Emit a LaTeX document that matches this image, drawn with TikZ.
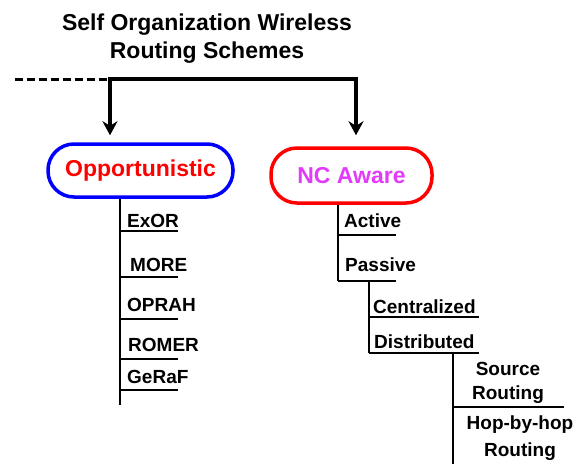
\documentclass[tikz,border=0pt]{standalone}
\usepackage{fontspec}
\setmainfont{Liberation Sans}
\usetikzlibrary{arrows.meta}
\definecolor{ncpink}{RGB}{226,58,250}
\tikzset{
	trunk/.style={black, line width=3.5pt},
	branch/.style={black, line width=1.5pt},
	family/.style={draw, line width=3.5pt, rounded corners=26pt, font=\fontsize{23}{28}\selectfont\bfseries},
	leaf/.style={anchor=base west, inner sep=0pt, font=\fontsize{19}{24}\selectfont\bfseries},
	subleaf/.style={anchor=base, inner sep=0pt, align=center, font=\fontsize{19}{24}\selectfont\bfseries},
}
\begin{document}
\begin{tikzpicture}[x=1pt,y=-1pt]
	\useasboundingbox (0,0) rectangle (582,464);
	%
	\node[anchor=base, inner sep=0pt, align=center, font=\fontsize{23}{28}\selectfont\bfseries] (head) at (207,58) {Self Organization Wireless\\Routing Schemes};
	%
	\node[family, blue, text=red, minimum width=185pt, minimum height=53pt] (opp) at (140.5,170.5) {Opportunistic};
	\node[family, red, text=ncpink, minimum width=161pt, minimum height=55pt] (nca) at (351.5,175.5) {NC Aware};
	%
	\coordinate (dash) at (15,79);
	\coordinate (split) at (110,79);
	\coordinate (rturn) at (356,79);
	\draw[trunk, line width=3pt, dash pattern=on 8pt off 4pt] (dash) -- (split);
	\draw[trunk, -{Stealth[length=14pt,width=15pt]}] (split) -- ([yshift=7pt]split |- opp.north);
	\draw[trunk, -{Stealth[length=14pt,width=15pt]}] ([xshift=-1.75pt]split) -- (rturn) -- ([yshift=11pt]rturn |- nca.north);
	%
	\draw[branch] (opp.south -| 120,0) -- (120,405);
	\node[leaf] (exor) at (127,227) {ExOR};
	\draw[branch] (120,231) -- (178,231);
	\node[leaf] (more) at (130,271) {MORE};
	\draw[branch] (120,277) -- (178,277);
	\node[leaf] (oprah) at (127,311) {OPRAH};
	\draw[branch] (120,319) -- (178,319);
	\node[leaf] (romer) at (128,351) {ROMER};
	\draw[branch] (120,359) -- (178,359);
	\node[leaf] (geraf) at (127,383) {GeRaF};
	\draw[branch] (120,390) -- (178,390);
	%
	\draw[branch] (nca.south -| 338,0) -- (338,281);
	\node[leaf] (active) at (344,227) {Active};
	\draw[branch] (338,235) -- (396,235);
	\node[leaf] (passive) at (345,271) {Passive};
	\draw[branch] (338,281) -- (396,281);
	%
	\draw[branch] (369,281) -- (369,353);
	\node[leaf] (central) at (373,313) {Centralized};
	\draw[branch] (369,317) -- (479,317);
	\node[leaf] (distrib) at (374,348) {Distributed};
	\draw[branch] (369,353) -- (479,353);
	%
	\draw[branch] (453,353) -- (453,464);
	\node[subleaf] (source) at (508,399) {Source\\Routing};
	\draw[branch] (453,407) -- (564,407);
	\node[subleaf] (hop) at (520,456) {Hop-by-hop\\[3pt]Routing};
	%
\end{tikzpicture}
\end{document}
